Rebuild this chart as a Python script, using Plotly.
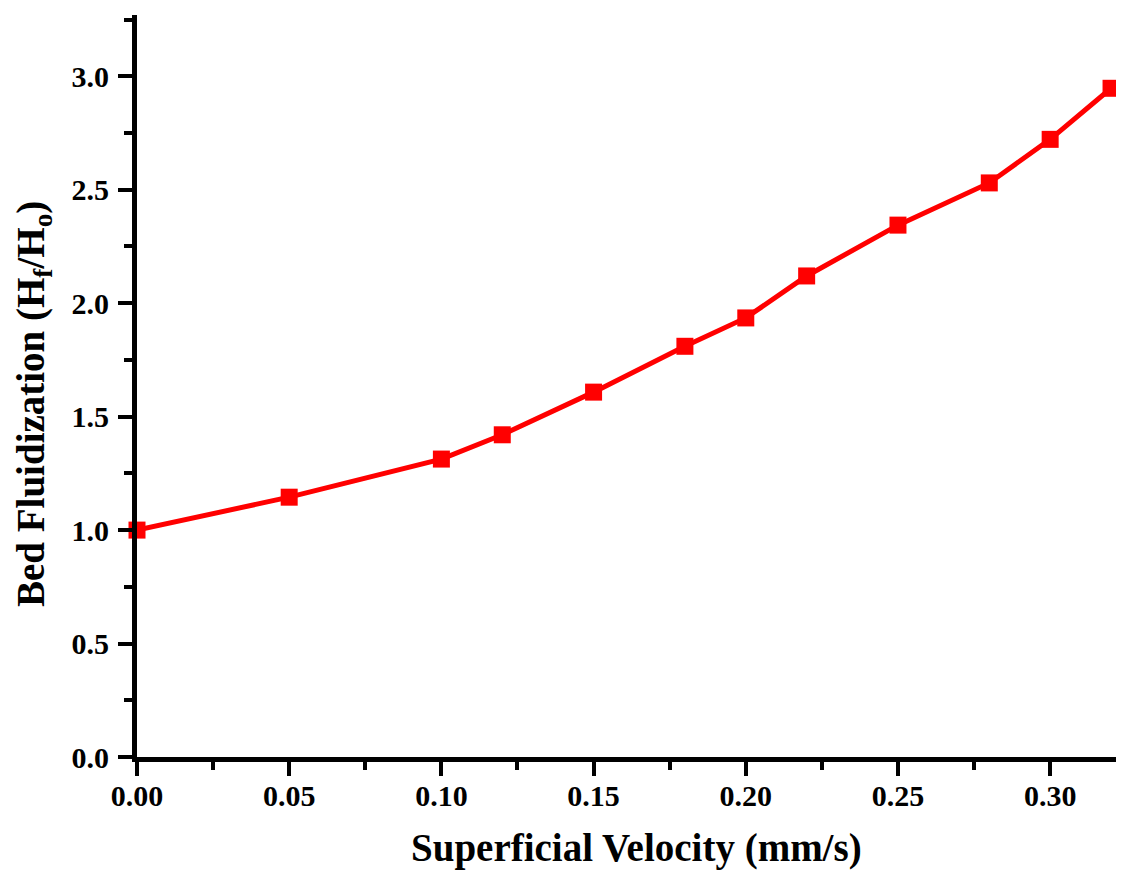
import plotly.graph_objects as go

velocity = [0.00, 0.05, 0.10, 0.12, 0.15, 0.18, 0.20, 0.22, 0.25, 0.28, 0.30, 0.32]
bed_fluidization = [1.00, 1.145, 1.313, 1.42, 1.608, 1.81, 1.935, 2.12, 2.344, 2.53, 2.722, 2.947]

x_title = "<b>Superficial Velocity (mm/s)</b>"
y_title = "<b>Bed Fluidization (H<sub>f</sub>/H<sub>o</sub>)</b>"

font_family = "Liberation Serif"

fig = go.Figure()
fig.add_trace(go.Scatter(
    x=velocity, y=bed_fluidization, mode="lines+markers",
    line=dict(color="#FF0000", width=5),
    marker=dict(symbol="square", size=17, color="#FF0000"),
    showlegend=False, cliponaxis=False,
))

axis_common = dict(
    showline=True, linecolor="black", linewidth=5, mirror=False,
    showgrid=False, zeroline=False, automargin=False,
    ticks="outside", ticklen=14, tickwidth=4, tickcolor="black",
    tickfont=dict(family=font_family, size=30, color="black", weight="bold"),
)

fig.update_xaxes(
    range=[0, 0.3236], tickvals=[0, 0.05, 0.10, 0.15, 0.20, 0.25, 0.30], tickformat=".2f",
    minor=dict(ticks="outside", ticklen=8, tickwidth=4, tickcolor="black", dtick=0.025, tick0=0),
    ticklabelstandoff=-6,
    **axis_common,
)
fig.update_yaxes(
    range=[0, 3.27], tickvals=[0, 0.5, 1.0, 1.5, 2.0, 2.5, 3.0], tickformat=".1f",
    minor=dict(ticks="outside", ticklen=8, tickwidth=4, tickcolor="black", dtick=0.25, tick0=0),
    ticklabelstandoff=3,
    **axis_common,
)

fig.add_annotation(
    text=x_title, xref="paper", yref="paper", x=0.5, y=0,
    xanchor="center", yanchor="middle", xshift=7, yshift=-91, showarrow=False,
    font=dict(family=font_family, size=39, color="black"),
)
fig.add_annotation(
    text=y_title, xref="paper", yref="paper", x=0, y=0.5, textangle=-90,
    xanchor="center", yanchor="middle", xshift=-104, yshift=-18, showarrow=False,
    font=dict(family=font_family, size=39, color="black"),
)

fig.update_layout(
    width=1124, height=874,
    margin=dict(l=129, r=10, t=7, b=125),
    plot_bgcolor="white", paper_bgcolor="white",
)

fig.write_html("out.html")
